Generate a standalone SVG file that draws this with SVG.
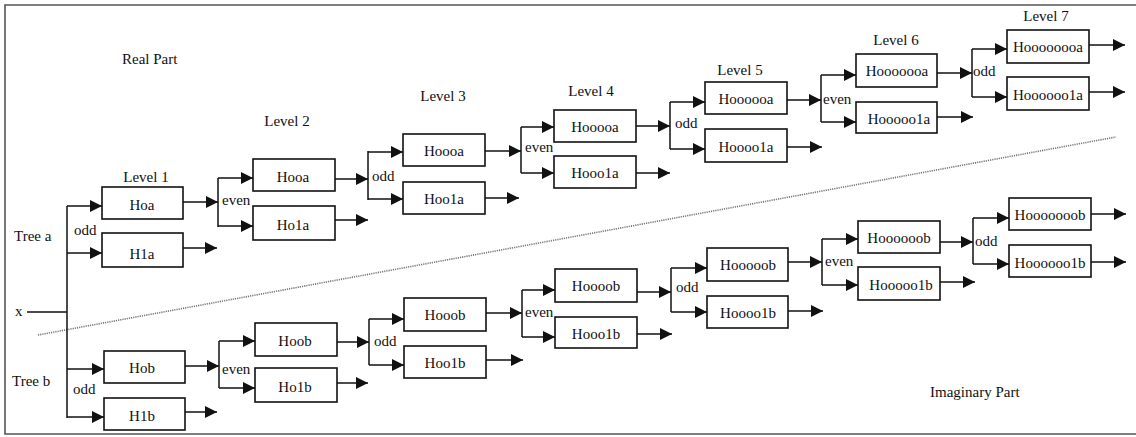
<svg xmlns="http://www.w3.org/2000/svg" width="1136" height="437" viewBox="0 0 1136 437">
<style>
.t{font-family:"Liberation Serif","Times New Roman",serif;font-size:15px;fill:#111}
.c{text-anchor:middle}
.box{fill:#fff;stroke:#111;stroke-width:1.6}
.ln{fill:none;stroke:#111;stroke-width:1.5}
.ar{fill:none;stroke:#111;stroke-width:1.5;marker-end:url(#ah)}
</style>
<defs>
<marker id="ah" viewBox="0 0 12 12" refX="12" refY="6" markerWidth="12" markerHeight="12" markerUnits="userSpaceOnUse" orient="auto">
<path d="M0,0 L12,6 L0,12 z" fill="#111"/>
</marker>
</defs>
<rect x="0" y="0" width="1136" height="437" fill="#fff"/>
<path d="M1140,5 H5 V434 H1140" fill="none" stroke="#555" stroke-width="1.6"/>
<line x1="38" y1="335" x2="1116" y2="137" stroke="#777" stroke-width="1.6" stroke-dasharray="1.2 1"/>

<g id="labels">
<text class="t" x="122" y="64">Real Part</text>
<text class="t" x="930" y="397">Imaginary Part</text>
<text class="t" x="14" y="241">Tree a</text>
<text class="t" x="12" y="386">Tree b</text>
<text class="t" x="15" y="316">x</text>
<text class="t c" x="146" y="182">Level 1</text>
<text class="t c" x="287" y="126">Level 2</text>
<text class="t c" x="443" y="101">Level 3</text>
<text class="t c" x="591" y="96">Level 4</text>
<text class="t c" x="740" y="75">Level 5</text>
<text class="t c" x="896" y="45">Level 6</text>
<text class="t c" x="1046" y="21">Level 7</text>
<text class="t" x="74" y="235">odd</text>
<text class="t" x="222" y="205">even</text>
<text class="t" x="372" y="181">odd</text>
<text class="t" x="525" y="152">even</text>
<text class="t" x="675" y="128">odd</text>
<text class="t" x="823" y="104">even</text>
<text class="t" x="973" y="76">odd</text>
<text class="t" x="73" y="394">odd</text>
<text class="t" x="222" y="374">even</text>
<text class="t" x="374" y="346">odd</text>
<text class="t" x="525" y="317">even</text>
<text class="t" x="676" y="292">odd</text>
<text class="t" x="825" y="266">even</text>
<text class="t" x="975" y="246">odd</text>
</g>

<g id="connectors">
<path class="ln" d="M67,206 V418 M27,312 H67"/>
<line class="ar" x1="67" y1="206" x2="102" y2="206"/>
<line class="ar" x1="67" y1="253" x2="102" y2="253"/>
<line class="ar" x1="67" y1="369" x2="104" y2="369"/>
<line class="ar" x1="67" y1="417" x2="104" y2="417"/>
<line class="ar" x1="183" y1="248" x2="217" y2="248"/>
<line class="ar" x1="185" y1="412" x2="217" y2="412"/>
<!-- tree a -->
<line class="ar" x1="183" y1="202" x2="218" y2="202"/>
<path class="ln" d="M218,178 V227"/>
<line class="ar" x1="218" y1="178" x2="253" y2="178"/>
<line class="ar" x1="218" y1="226" x2="253" y2="226"/>
<line class="ar" x1="335" y1="220" x2="368" y2="220"/>
<line class="ar" x1="335" y1="179" x2="368" y2="179"/>
<path class="ln" d="M368,151 V200"/>
<line class="ar" x1="368" y1="152" x2="403" y2="152"/>
<line class="ar" x1="368" y1="199" x2="403" y2="199"/>
<line class="ar" x1="485" y1="198" x2="519" y2="198"/>
<line class="ar" x1="485" y1="151" x2="521" y2="151"/>
<path class="ln" d="M521,127 V173"/>
<line class="ar" x1="521" y1="127" x2="554" y2="127"/>
<line class="ar" x1="521" y1="173" x2="554" y2="173"/>
<line class="ar" x1="636" y1="173" x2="670" y2="173"/>
<line class="ar" x1="636" y1="126" x2="670" y2="126"/>
<path class="ln" d="M670,102 V149"/>
<line class="ar" x1="670" y1="102" x2="705" y2="102"/>
<line class="ar" x1="670" y1="149" x2="705" y2="149"/>
<line class="ar" x1="787" y1="147" x2="822" y2="147"/>
<line class="ar" x1="787" y1="100" x2="821" y2="100"/>
<path class="ln" d="M821,75 V122"/>
<line class="ar" x1="821" y1="75" x2="856" y2="75"/>
<line class="ar" x1="821" y1="122" x2="856" y2="122"/>
<line class="ar" x1="937" y1="117" x2="973" y2="117"/>
<line class="ar" x1="937" y1="73" x2="972" y2="73"/>
<path class="ln" d="M972,49 V97"/>
<line class="ar" x1="972" y1="49" x2="1007" y2="49"/>
<line class="ar" x1="972" y1="97" x2="1007" y2="97"/>
<line class="ar" x1="1089" y1="45" x2="1125" y2="45"/>
<line class="ar" x1="1089" y1="92" x2="1125" y2="92"/>
<!-- tree b -->
<line class="ar" x1="185" y1="366" x2="219" y2="366"/>
<path class="ln" d="M219,341 V388"/>
<line class="ar" x1="219" y1="341" x2="255" y2="341"/>
<line class="ar" x1="219" y1="388" x2="255" y2="388"/>
<line class="ar" x1="337" y1="383" x2="368" y2="383"/>
<line class="ar" x1="337" y1="342" x2="369" y2="342"/>
<path class="ln" d="M369,319 V365"/>
<line class="ar" x1="369" y1="319" x2="404" y2="319"/>
<line class="ar" x1="369" y1="365" x2="404" y2="365"/>
<line class="ar" x1="486" y1="360" x2="523" y2="360"/>
<line class="ar" x1="486" y1="313" x2="522" y2="313"/>
<path class="ln" d="M522,290 V337"/>
<line class="ar" x1="522" y1="290" x2="555" y2="290"/>
<line class="ar" x1="522" y1="337" x2="555" y2="337"/>
<line class="ar" x1="637" y1="334" x2="672" y2="334"/>
<line class="ar" x1="637" y1="292" x2="671" y2="292"/>
<path class="ln" d="M671,268 V312"/>
<line class="ar" x1="671" y1="268" x2="707" y2="268"/>
<line class="ar" x1="671" y1="312" x2="707" y2="312"/>
<line class="ar" x1="788" y1="311" x2="823" y2="311"/>
<line class="ar" x1="788" y1="262" x2="822" y2="262"/>
<path class="ln" d="M822,239 V285"/>
<line class="ar" x1="822" y1="239" x2="858" y2="239"/>
<line class="ar" x1="822" y1="285" x2="858" y2="285"/>
<line class="ar" x1="940" y1="282" x2="975" y2="282"/>
<line class="ar" x1="940" y1="242" x2="973" y2="242"/>
<path class="ln" d="M973,218 V264"/>
<line class="ar" x1="973" y1="218" x2="1009" y2="218"/>
<line class="ar" x1="973" y1="264" x2="1009" y2="264"/>
<line class="ar" x1="1091" y1="214" x2="1126" y2="214"/>
<line class="ar" x1="1091" y1="262" x2="1126" y2="262"/>
</g>

<g id="n-Hoa"><rect class="box" x="102" y="187" width="81" height="32"/><text class="t c" x="142" y="210">Hoa</text></g>
<g id="n-H1a"><rect class="box" x="102" y="233" width="81" height="34"/><text class="t c" x="142" y="259">H1a</text></g>
<g id="n-Hooa"><rect class="box" x="253" y="159" width="82" height="32"/><text class="t c" x="293" y="182">Hooa</text></g>
<g id="n-Ho1a"><rect class="box" x="253" y="206" width="82" height="34"/><text class="t c" x="293" y="230">Ho1a</text></g>
<g id="n-Hoooa"><rect class="box" x="403" y="134" width="82" height="32"/><text class="t c" x="444" y="156">Hoooa</text></g>
<g id="n-Hoo1a"><rect class="box" x="403" y="182" width="82" height="32"/><text class="t c" x="444" y="204">Hoo1a</text></g>
<g id="n-Hooooa"><rect class="box" x="554" y="110" width="82" height="32"/><text class="t c" x="595" y="132">Hooooa</text></g>
<g id="n-Hooo1a"><rect class="box" x="554" y="156" width="82" height="32"/><text class="t c" x="595" y="178">Hooo1a</text></g>
<g id="n-Hoooooa"><rect class="box" x="705" y="82" width="82" height="32"/><text class="t c" x="746" y="104">Hoooooa</text></g>
<g id="n-Hoooo1a"><rect class="box" x="705" y="129" width="82" height="33"/><text class="t c" x="746" y="152">Hoooo1a</text></g>
<g id="n-Hooooooa"><rect class="box" x="856" y="54" width="81" height="33"/><text class="t c" x="897" y="76">Hooooooa</text></g>
<g id="n-Hooooo1a"><rect class="box" x="856" y="102" width="81" height="31"/><text class="t c" x="899" y="124">Hooooo1a</text></g>
<g id="n-Hoooooooa"><rect class="box" x="1007" y="30" width="82" height="33"/><text class="t c" x="1048" y="52">Hoooooooa</text></g>
<g id="n-Hoooooo1a"><rect class="box" x="1007" y="77" width="82" height="33"/><text class="t c" x="1048" y="100">Hoooooo1a</text></g>

<g id="n-Hob"><rect class="box" x="104" y="351" width="81" height="32"/><text class="t c" x="142" y="373">Hob</text></g>
<g id="n-H1b"><rect class="box" x="104" y="398" width="81" height="32"/><text class="t c" x="142" y="421">H1b</text></g>
<g id="n-Hoob"><rect class="box" x="255" y="323" width="82" height="33"/><text class="t c" x="295" y="346">Hoob</text></g>
<g id="n-Ho1b"><rect class="box" x="255" y="368" width="82" height="34"/><text class="t c" x="295" y="392">Ho1b</text></g>
<g id="n-Hooob"><rect class="box" x="404" y="298" width="82" height="33"/><text class="t c" x="445" y="320">Hooob</text></g>
<g id="n-Hoo1b"><rect class="box" x="404" y="346" width="82" height="32"/><text class="t c" x="445" y="368">Hoo1b</text></g>
<g id="n-Hoooob"><rect class="box" x="555" y="269" width="82" height="33"/><text class="t c" x="596" y="291">Hoooob</text></g>
<g id="n-Hooo1b"><rect class="box" x="555" y="317" width="82" height="31"/><text class="t c" x="596" y="339">Hooo1b</text></g>
<g id="n-Hooooob"><rect class="box" x="707" y="248" width="81" height="33"/><text class="t c" x="748" y="270">Hooooob</text></g>
<g id="n-Hoooo1b"><rect class="box" x="707" y="296" width="81" height="32"/><text class="t c" x="748" y="318">Hoooo1b</text></g>
<g id="n-Hoooooob"><rect class="box" x="858" y="221" width="82" height="32"/><text class="t c" x="899" y="243">Hoooooob</text></g>
<g id="n-Hooooo1b"><rect class="box" x="858" y="267" width="82" height="33"/><text class="t c" x="901" y="290">Hooooo1b</text></g>
<g id="n-Hooooooob"><rect class="box" x="1009" y="198" width="82" height="32"/><text class="t c" x="1050" y="220">Hooooooob</text></g>
<g id="n-Hoooooo1b"><rect class="box" x="1009" y="245" width="82" height="32"/><text class="t c" x="1050" y="268">Hoooooo1b</text></g>
</svg>
